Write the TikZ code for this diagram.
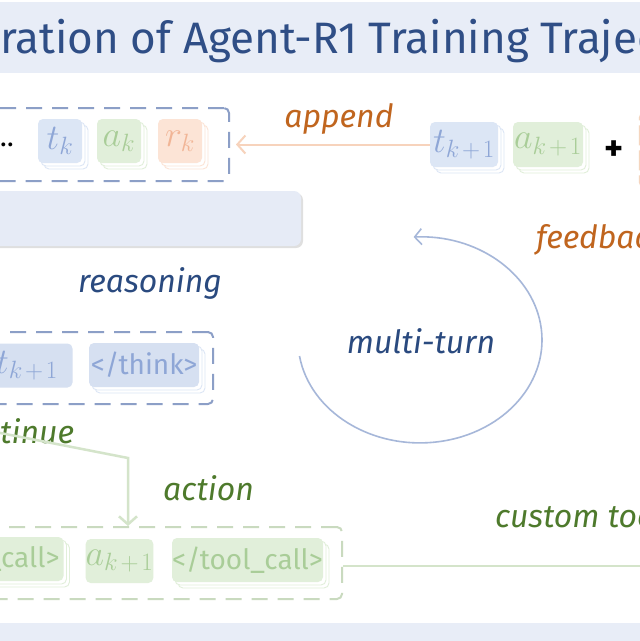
\documentclass[tikz,border=0pt]{standalone}
\usepackage{fix-cm}
\usepackage{fontspec}
\setmainfont{Fira Sans}
\usetikzlibrary{arrows.meta,shadows}
\newcommand\bigsub[1]{_{\mbox{\fontsize{25}{28}\selectfont$#1$}}}
\newcommand\kplus{k\mkern2mu{+}\mkern2mu1}
\definecolor{bandbg}{HTML}{E8EDF7}
\definecolor{titleblue}{HTML}{2F4E86}
\definecolor{dashblue}{HTML}{8C9FC7}
\definecolor{cardblue}{HTML}{DCE6F5}
\definecolor{cardbluetext}{HTML}{8EA6D6}
\definecolor{cardgreen}{HTML}{E1EFDA}
\definecolor{cardgreentext}{HTML}{A9CD98}
\definecolor{cardorange}{HTML}{FCE4D6}
\definecolor{cardorangetext}{HTML}{F1B596}
\definecolor{appendline}{HTML}{F7D3BC}
\definecolor{appendtext}{HTML}{C0651E}
\definecolor{darkblue}{HTML}{2A4A7F}
\definecolor{cyclecol}{HTML}{A6B7D9}
\definecolor{reasonbg}{HTML}{E6EBF6}
\definecolor{dashgreen}{HTML}{C9DABF}
\definecolor{greenline}{HTML}{D4E4CA}
\definecolor{greentext}{HTML}{4E7A2C}
\definecolor{dashorange}{HTML}{F5D5BE}
\tikzset{
  x=1pt, y=-1pt,
  card/.style={rectangle, rounded corners=5pt, inner sep=0pt, minimum height=44pt, draw=none},
  stackcard/.style={double copy shadow={shadow xshift=3pt, shadow yshift=-3pt, fill=white, draw=#1, line width=0.9pt}},
  bluecard/.style={card, fill=cardblue, text=cardbluetext},
  greencard/.style={card, fill=cardgreen, text=cardgreentext},
  orangecard/.style={card, fill=cardorange, text=cardorangetext},
  mathtxt/.style={font=\fontsize{36}{40}\selectfont},
  tagtxt/.style={font=\fontsize{28}{32}\selectfont},
  groupbox/.style={rectangle, draw=#1, line width=2pt, dash pattern=on 16pt off 10pt, rounded corners=5pt, inner sep=0pt, fill=none},
  lbl/.style={font=\fontsize{32}{38}\selectfont\itshape, inner sep=0pt},
}
\begin{document}
\begin{tikzpicture}
\useasboundingbox (0,0) rectangle (640,641);
\clip (0,0) rectangle (640,641);
\fill[white] (0,0) rectangle (640,641);
% bands
\fill[bandbg] (-10,2) rectangle (650,73);
\fill[bandbg] (-10,623) rectangle (650,650);
\node[anchor=base west, inner sep=0pt, text=titleblue, font=\fontsize{44}{50}\selectfont] (title) at (0,53) {\llap{Illust}ration of Agent-R1 Training Trajectory};

% top history box
\node[groupbox=dashblue, minimum width=239pt, minimum height=73pt] (topbox) at (109.5,144.5) {};
\node[anchor=base east, inner sep=0pt, font=\fontsize{28}{30}\selectfont] (dots) at (14,146) {\ldots};
\node[bluecard, stackcard=cardblue, minimum width=44pt, mathtxt] (tk) at (60,141) {$t\bigsub{k}$};
\node[greencard, stackcard=cardgreen, minimum width=44pt, mathtxt] (ak) at (119,141) {$a\bigsub{k}$};
\node[orangecard, stackcard=cardorange, minimum width=44pt, mathtxt] (rk) at (180,141) {$r\bigsub{k}$};

% new step
\node[bluecard, stackcard=cardblue, minimum width=68pt, minimum height=45pt, mathtxt] (tk1) at (464,144.5) {$t\bigsub{\kplus}$};
\node[greencard, stackcard=cardgreen, minimum width=70pt, minimum height=45pt, mathtxt] (ak1) at (548,144.5) {$a\bigsub{\kplus}$};
\node[font=\fontsize{36}{40}\selectfont\bfseries, inner sep=0pt] (plus) at (614,151) {+};
\node[groupbox=dashorange, line width=2.5pt, dash pattern=on 20pt off 5pt, minimum width=70pt, minimum height=74pt] (fbbox) at (675,150) {};

\draw[appendline, line width=2pt, -{Straight Barb[length=8pt, width=18pt]}, shorten >=6pt] (tk1.west) -- (topbox.east);
\node[lbl, text=appendtext, anchor=base] (append) at (339,127) {append};

% reasoning bar
\node[rectangle, rounded corners=7pt, fill=reasonbg, minimum width=320pt, minimum height=55pt, drop shadow={shadow xshift=2pt, shadow yshift=-2pt, opacity=0.25, fill=gray}] (reasonbar) at (141,218.5) {};
\node[lbl, text=darkblue, anchor=base] (reasoning) at (150,292) {reasoning};

% think box
\node[groupbox=dashblue, minimum width=223pt, minimum height=72pt] (thinkbox) at (101.5,368) {};
\node[card, fill=cardblue!92!dashblue, text=cardbluetext, minimum width=91pt, mathtxt] (tk1b) at (27,365.5) {$t\bigsub{\kplus}$};
\node[card, fill=cardblue!92!dashblue, stackcard=cardblue, text=cardbluetext, minimum width=110pt, tagtxt] (think) at (144,365) {</think>};

% multi-turn cycle
\coordinate (cyclestart) at (299.5,356);
\draw[cyclecol, line width=1.6pt, -{Straight Barb[length=7pt, width=16pt]}] (cyclestart) arc[start angle=171, end angle=-93, x radius=122, y radius=103];
\node[lbl, text=darkblue, anchor=base] (multiturn) at (421,353) {multi-turn};
\node[lbl, text=appendtext, anchor=base west] (feedback) at (536,248) {feedback};

% continue / action
\node[lbl, text=greentext, anchor=base west] (continue) at (0,443) {\llap{con}tinue};
\node[lbl, text=greentext, anchor=base west] (action) at (163,500) {action};
\node[groupbox=dashgreen, minimum width=352pt, minimum height=72pt] (toolbox) at (166,563) {};
\coordinate (cstart) at (-20,429);
\coordinate (cbend) at (128,458);
\draw[greenline, line width=2.5pt, -{Straight Barb[length=8pt, width=18pt]}] (cstart) -- (cbend) -- (cbend |- toolbox.north);

\node[greencard, stackcard=cardgreen, minimum width=145pt, tagtxt] (toolcall) at (-9,559) {<tool\_call>};
\node[greencard, minimum width=67pt, mathtxt] (ak1b) at (119.5,561) {$a\bigsub{\kplus}$};
\node[greencard, stackcard=cardgreen, minimum width=151pt, tagtxt] (endtool) at (247.5,560) {</tool\_call>};

\coordinate (toolend) at (660,566);
\draw[greenline, line width=2pt] (toolbox.east |- toolend) -- (toolend);
\node[lbl, text=greentext, anchor=base west] (custom) at (495,527) {custom tools};
\end{tikzpicture}
\end{document}
